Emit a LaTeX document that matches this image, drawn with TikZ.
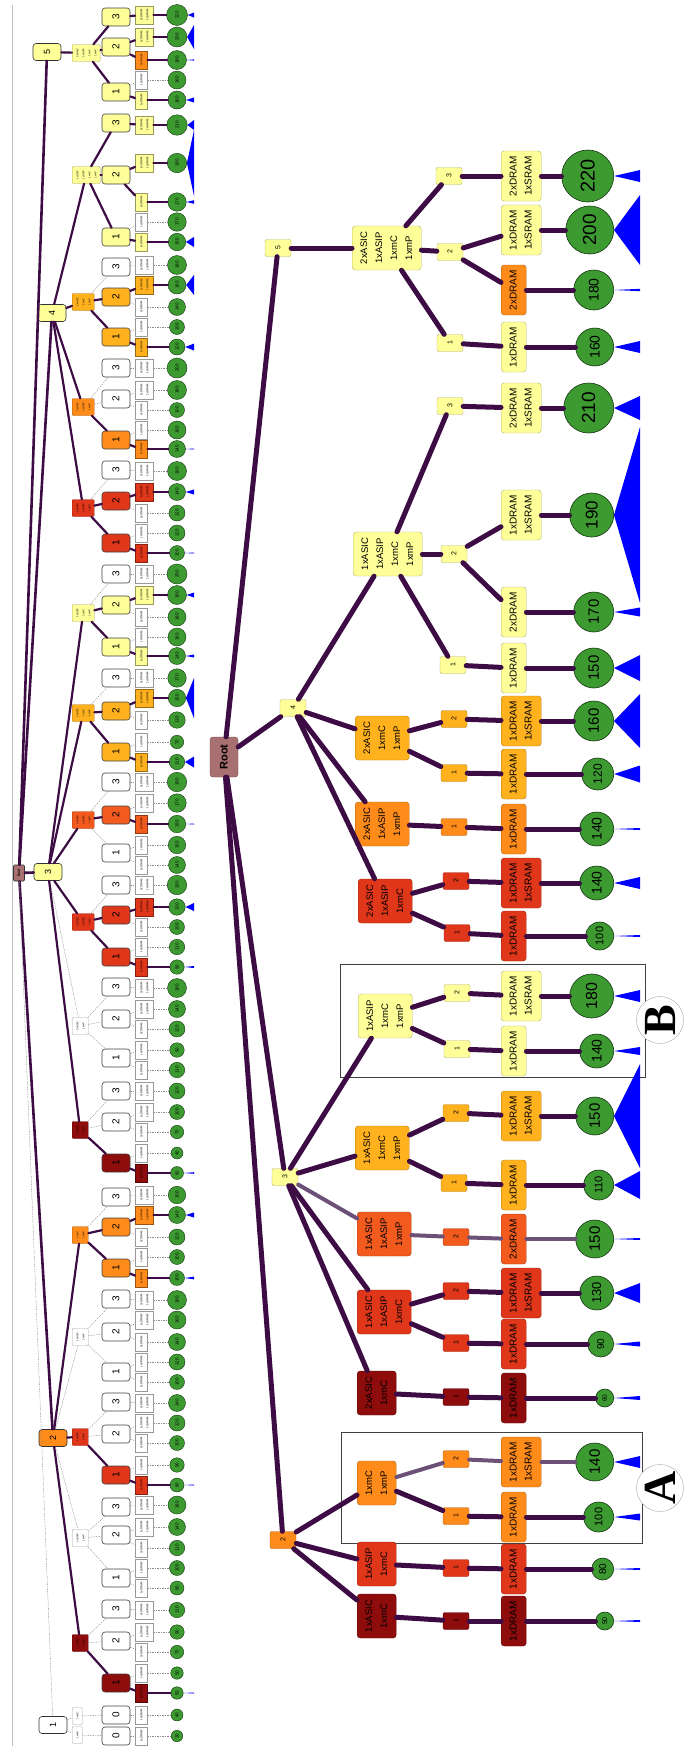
\documentclass[tikz,border=0pt]{standalone}
\usepackage{fontspec}
\setmainfont{Liberation Sans}
\newfontfamily\letterfont{Liberation Serif}
\usepackage{graphicx}
\usetikzlibrary{calc}

\definecolor{cyel}{HTML}{FFFF99}
\definecolor{camb}{HTML}{FFB21E}
\definecolor{cora}{HTML}{FF8C1A}
\definecolor{corr}{HTML}{F25A1E}
\definecolor{cred}{HTML}{E0361A}
\definecolor{cdred}{HTML}{8E0C0C}
\definecolor{croot}{HTML}{A87070}
\definecolor{cleaf}{HTML}{3C9A30}
\definecolor{cedge}{HTML}{3D0C44}
\definecolor{cedgel}{HTML}{6C5078}
\definecolor{ctri}{HTML}{0000FF}

\newcommand{\rot}[1]{\rotatebox{90}{\begin{tabular}{@{}c@{}}#1\end{tabular}}}
\newcommand{\memA}{2xDRAM\\1xSRAM}
\newcommand{\memB}{1xDRAM\\1xSRAM}
\newcommand{\memC}{2xDRAM}
\newcommand{\memD}{1xSRAM}
\newcommand{\memE}{1xDRAM}
% blue spread triangle to the right of a leaf
\newcommand{\spread}[3]{\fill[ctri] (#1.east) -- ($(#1.east -| #2)+(0,#3)$) -- ($(#1.east -| #2)+(0,-#3)$) -- cycle;}

\begin{document}
\begin{tikzpicture}[x=1pt, y=-1pt,
  rnum/.style={fill=#1, draw=#1!70!black, rounded corners=2pt, minimum width=26pt, minimum height=17pt, inner sep=0pt, font=\fontsize{7}{8}\selectfont},
  rset/.style={fill=#1, draw=#1!70!black, rounded corners=3pt, anchor=west, minimum height=44pt, inner xsep=4.5pt, inner ysep=0pt, font=\fontsize{9.5}{15}\selectfont},
  rmem/.style={fill=#1, draw=#1!70!black, rounded corners=3pt, anchor=west, minimum height=50pt, inner xsep=5pt, inner ysep=0pt, font=\fontsize{10}{15}\selectfont},
  rleaf/.style={circle, fill=cleaf, draw=cleaf!35!black, line width=0.6pt, inner sep=0pt, anchor=east},
  rroot/.style={fill=croot, draw=croot!70!black, rounded corners=3pt, minimum width=28pt, minimum height=40pt, inner sep=0pt, font=\bfseries\fontsize{11}{12}\selectfont},
  redge/.style={draw=cedge, line width=5pt, line cap=round},
  redgel/.style={draw=cedgel, line width=4pt, line cap=round},
  boxab/.style={draw=black!75, line width=1pt},
  labc/.style={circle, draw=black!35, fill=white, minimum size=47pt, inner sep=0pt, font=\letterfont\bfseries\fontsize{46}{46}\selectfont},
  lone/.style={fill=#1, draw=black!80, rounded corners=3pt, minimum width=28pt, minimum height=17pt, inner sep=0pt, line width=0.6pt, font=\fontsize{9}{10}\selectfont},
  lset/.style={fill=#1, draw=#1!65!black, rounded corners=1pt, anchor=west, minimum height=17pt, inner xsep=2pt, inner ysep=0pt, font=\fontsize{2.6}{6}\selectfont},
  lnum/.style={fill=#1, draw=black!75, rounded corners=3pt, minimum width=28pt, minimum height=18pt, inner sep=0pt, line width=0.6pt, font=\fontsize{10}{11}\selectfont},
  lmem/.style={fill=#1, draw=#1!60!black, anchor=west, minimum height=18pt, inner xsep=3pt, inner ysep=0pt, font=\fontsize{2.8}{6}\selectfont},
  lleaf/.style={circle, fill=cleaf, draw=cleaf!35!black, line width=0.4pt, inner sep=0pt, font=\fontsize{4.5}{5}\selectfont},
  ledge/.style={draw=cedge, line width=2.2pt, line cap=round},
  ldash/.style={draw=black!45, line width=0.4pt, dash pattern=on 1.5pt off 1pt}
]
\useasboundingbox (0,0) rectangle (690,1746);
\coordinate (rbase) at (640,0);
\coordinate (lbase) at (194,0);

% overview tree on the left
\draw[black!25, line width=0.8pt] (12,5) -- (12,1746);
\node[lone=croot, minimum width=11pt, minimum height=16pt, rounded corners=1pt, font=\bfseries\fontsize{3.5}{4}\selectfont] (lroot) at (19,873) {\rotatebox{90}{Root}};
\node[lone=cyel] (L5) at (47,52) {\rotatebox{90}{5}};
\node[lone=cyel] (L4) at (52,313) {\rotatebox{90}{4}};
\node[lone=cyel] (L3) at (48,872) {\rotatebox{90}{3}};
\node[lone=cora] (L2) at (53,1438) {\rotatebox{90}{2}};
\node[lone=white] (L1) at (53,1725) {\rotatebox{90}{1}};

\node[lset=cyel] (ga1) at (72,53) {\rot{2xASIC\\1xASIP\\1xmC\\1xmP}};
\node[lset=cyel] (gb1) at (72,175) {\rot{1xASIC\\1xASIP\\1xmC\\1xmP}};
\node[lset=camb] (gb2) at (72,302) {\rot{2xASIC\\1xmC\\1xmP}};
\node[lset=cora] (gb3) at (72,407) {\rot{2xASIC\\1xASIP\\1xmP}};
\node[lset=cred] (gb4) at (72,508) {\rot{2xASIC\\1xASIP\\1xmC}};
\node[lset=cyel] (gc1) at (72,613) {\rot{1xASIP\\1xmC\\1xmP}};
\node[lset=camb] (gc2) at (72,713) {\rot{1xASIC\\1xmC\\1xmP}};
\node[lset=corr] (gc3) at (72,820) {\rot{1xASIC\\1xASIP\\1xmP}};
\node[lset=cred] (gc4) at (72,922) {\rot{1xASIC\\1xASIP\\1xmC}};
\node[lset=white] (gc5) at (72,1026) {\rot{2xASIC\\1xmP}};
\node[lset=cdred] (gc6) at (72,1130) {\rot{2xASIC\\1xmC}};
\node[lset=cora] (gd1) at (72,1235) {\rot{1xmC\\1xmP}};
\node[lset=white] (gd2) at (72,1337) {\rot{1xASIC\\1xmP}};
\node[lset=cred] (gd3) at (72,1437) {\rot{1xASIP\\1xmC}};
\node[lset=white] (gd4) at (72,1538) {\rot{1xASIP\\1xmP}};
\node[lset=cdred] (gd5) at (72,1643) {\rot{1xASIC\\1xmC}};
\node[lset=white] (ge1) at (72,1716) {\rot{1xmC}};
\node[lset=white] (ge2) at (72,1735) {\rot{1xmP}};

\foreach \a in {L5,L4,L3,L2} \draw[ledge, line width=2.6pt] (lroot) -- (\a);
\draw[ldash] (lroot) -- (L1);
\foreach \a/\b/\s in {L5/ga1/ledge, L4/gb1/ledge, L4/gb2/ledge, L4/gb3/ledge, L4/gb4/ledge,
  L3/gc1/ledge, L3/gc2/ledge, L3/gc3/ledge, L3/gc4/ledge, L3/gc5/ldash, L3/gc6/ledge,
  L2/gd1/ledge, L2/gd2/ldash, L2/gd3/ledge, L2/gd4/ldash, L2/gd5/ledge, L1/ge1/ldash, L1/ge2/ldash}
  \draw[\s] (\a) -- (\b);

\foreach \n/\y/\c/\l/\p/\s in {
  a13/17/cyel/3/ga1/ledge, a12/47/cyel/2/ga1/ledge, a11/92/cyel/1/ga1/ledge,
  b13/123/cyel/3/gb1/ledge, b12/175/cyel/2/gb1/ledge, b11/237/cyel/1/gb1/ledge,
  b23/267/white/3/gb2/ldash, b22/297/camb/2/gb2/ledge, b21/337/camb/1/gb2/ledge,
  b33/368/white/3/gb3/ldash, b32/399/white/2/gb3/ldash, b31/440/cora/1/gb3/ledge,
  b43/470/white/3/gb4/ldash, b42/501/cred/2/gb4/ledge, b41/543/cred/1/gb4/ledge,
  c13/574/white/3/gc1/ldash, c12/605/cyel/2/gc1/ledge, c11/647/cyel/1/gc1/ledge,
  c23/678/white/3/gc2/ldash, c22/711/camb/2/gc2/ledge, c21/752/camb/1/gc2/ledge,
  c33/782/white/3/gc3/ldash, c32/815/corr/2/gc3/ledge, c31/853/white/1/gc3/ldash,
  c43/885/white/3/gc4/ldash, c42/915/cred/2/gc4/ledge, c41/957/cred/1/gc4/ledge,
  c53/987/white/3/gc5/ldash, c52/1019/white/2/gc5/ldash, c51/1058/white/1/gc5/ldash,
  c63/1091/white/3/gc6/ldash, c62/1122/white/2/gc6/ldash, c61/1163/cdred/1/gc6/ledge,
  d13/1197/white/3/gd1/ldash, d12/1227/cora/2/gd1/ledge, d11/1268/cora/1/gd1/ledge,
  d23/1299/white/3/gd2/ldash, d22/1332/white/2/gd2/ldash, d21/1372/white/1/gd2/ldash,
  d33/1402/white/3/gd3/ldash, d32/1434/white/2/gd3/ldash, d31/1475/cred/1/gd3/ledge,
  d43/1507/white/3/gd4/ldash, d42/1535/white/2/gd4/ldash, d41/1578/white/1/gd4/ldash,
  d53/1609/white/3/gd5/ldash, d52/1641/white/2/gd5/ldash, d51/1683/cdred/1/gd5/ledge,
  e10/1715/white/0/ge1/ldash, e20/1736/white/0/ge2/ldash}{
  \node[lnum=\c] (\n) at (116,\y) {\rotatebox{90}{\l}};
  \draw[\s] (\p) -- (\n);
}

\foreach \y/\p/\c/\t/\v/\h/\s in {
  15/a13/cyel/A/220/2.5/ledge, 37/a12/cyel/B/200/12/ledge, 60/a12/cora/C/180/0.6/ledge,
  80/a11/white/D/160/0/ldash, 100/a11/cyel/E/160/2.5/ledge,
  125/b13/cyel/A/210/5/ledge, 163/b12/cyel/B/190/33/ledge, 202/b12/cyel/C/170/1.8/ledge,
  222/b11/white/D/170/0/ldash, 242/b11/cyel/E/150/5/ledge,
  265/b23/white/A/180/0/ldash, 285/b22/camb/B/160/10/ledge, 307/b22/white/C/140/0/ldash,
  327/b21/white/D/100/0/ldash, 347/b21/camb/E/120/3.5/ledge,
  368/b33/white/A/200/0/ldash, 390/b32/white/B/180/0/ldash, 410/b32/white/C/100/0/ldash,
  430/b31/white/D/160/0/ldash, 449/b31/cora/E/140/0.5/ledge,
  471/b43/white/A/180/0/ldash, 492/b42/cred/B/140/2.5/ledge, 513/b42/white/C/120/0/ldash,
  533/b41/white/D/120/0/ldash, 553/b41/cred/E/100/0.5/ledge,
  574/c13/white/A/200/0/ldash, 595/c12/cyel/B/180/2.5/ledge, 617/c12/white/C/160/0/ldash,
  637/c11/white/D/160/0/ldash, 656/c11/cyel/E/140/1.5/ledge,
  678/c23/white/A/170/0/ldash, 698/c22/camb/B/150/20/ledge, 720/c22/white/C/130/0/ldash,
  742/c21/white/D/70/0/ldash, 762/c21/camb/E/110/5.5/ledge,
  782/c33/white/A/190/0/ldash, 803/c32/white/B/170/0/ldash, 824/c32/corr/C/150/0.5/ledge,
  845/c31/white/D/150/0/ldash, 865/c31/white/E/140/0/ldash,
  885/c43/white/A/190/0/ldash, 907/c42/cred/B/130/4/ledge, 927/c42/white/C/100/0/ldash,
  947/c41/white/D/110/0/ldash, 967/c41/cred/E/90/1/ledge,
  988/c53/white/A/180/0/ldash, 1009/c52/white/B/140/0/ldash, 1029/c52/white/C/120/0/ldash,
  1050/c51/white/D/90/0/ldash, 1070/c51/white/E/110/0/ldash,
  1091/c63/white/A/120/0/ldash, 1112/c62/white/B/100/0/ldash, 1132/c62/white/C/70/0/ldash,
  1153/c61/white/D/40/0/ldash, 1173/c61/cdred/E/60/0.8/ledge,
  1195/d13/white/A/150/0/ldash, 1215/d12/cora/B/140/2.5/ledge, 1237/d12/white/C/120/0/ldash,
  1257/d11/white/D/100/0/ldash, 1278/d11/cora/E/100/1.4/ledge,
  1300/d23/white/A/180/0/ldash, 1320/d22/white/B/160/0/ldash, 1342/d22/white/C/140/0/ldash,
  1362/d21/white/D/120/0/ldash, 1382/d21/white/E/100/0/ldash,
  1403/d33/white/A/140/0/ldash, 1423/d32/white/B/120/0/ldash, 1443/d32/white/C/100/0/ldash,
  1465/d31/white/D/90/0/ldash, 1485/d31/cred/E/80/0.5/ledge,
  1505/d43/white/A/160/0/ldash, 1527/d42/white/B/140/0/ldash, 1548/d42/white/C/110/0/ldash,
  1568/d41/white/D/100/0/ldash, 1588/d41/white/E/80/0/ldash,
  1610/d53/white/A/110/0/ldash, 1632/d52/white/B/90/0/ldash, 1652/d52/white/C/70/0/ldash,
  1673/d51/white/D/50/0/ldash, 1693/d51/cdred/E/50/0.5/ledge,
  1715/e10/white/D/40/0/ldash, 1736/e20/white/E/30/0/ldash}{
  \node[lmem=\c] (lm\y) at (135,\y) {\rot{\csname mem\t\endcsname}};
  \node[lleaf, minimum size={10+\v/20}] (lc\y) at (177,\y) {\rotatebox{90}{\v}};
  \draw[\s] (\p) -- (lm\y);
  \draw[\s] (lm\y) -- (lc\y);
  \ifdim\h pt>0pt \spread{lc\y}{lbase}{\h}\fi
}

% detail tree
\draw[boxab] (340,964) rectangle (645,1077);
\draw[boxab] (341,1432) rectangle (642,1543);

\node[rroot] (root) at (224,757) {\rotatebox{90}{Root}};
\node[rnum=cyel] (k5) at (278,248) {\rotatebox{90}{5}};
\node[rnum=cyel] (k4) at (293,708) {\rotatebox{90}{4}};
\node[rnum=cyel] (k3) at (285,1177) {\rotatebox{90}{3}};
\node[rnum=cora] (k2) at (283,1540) {\rotatebox{90}{2}};

\node[rset=cyel] (s5) at (352,248) {\rot{2xASIC\\1xASIP\\1xmC\\1xmP}};
\node[rset=cyel] (s4a) at (353,554) {\rot{1xASIC\\1xASIP\\1xmC\\1xmP}};
\node[rset=camb] (s4b) at (355,738) {\rot{2xASIC\\1xmC\\1xmP}};
\node[rset=cora] (s4c) at (355,824) {\rot{2xASIC\\1xASIP\\1xmP}};
\node[rset=cred] (s4d) at (358,901) {\rot{2xASIC\\1xASIP\\1xmC}};
\node[rset=cyel] (s3a) at (358,1016) {\rot{1xASIP\\1xmC\\1xmP}};
\node[rset=camb] (s3b) at (355,1148) {\rot{1xASIC\\1xmC\\1xmP}};
\node[rset=corr] (s3c) at (357,1234) {\rot{1xASIC\\1xASIP\\1xmP}};
\node[rset=cred] (s3d) at (357,1312) {\rot{1xASIC\\1xASIP\\1xmC}};
\node[rset=cdred] (s3e) at (357,1393) {\rot{2xASIC\\1xmC}};
\node[rset=cora] (s2a) at (357,1483) {\rot{1xmC\\1xmP}};
\node[rset=cred] (s2b) at (357,1564) {\rot{1xASIP\\1xmC}};
\node[rset=cdred] (s2c) at (357,1616) {\rot{1xASIC\\1xmC}};

\foreach \n/\x/\y/\c/\l in {n53/449/176/cyel/3, n52/450/252/cyel/2, n51/450/343/cyel/1,
  n4a3/450/406/cyel/3, n4a2/454/554/cyel/2, n4a1/453/665/cyel/1,
  n4b2/454/719/camb/2, n4b1/454/773/camb/1, n4c1/454/827/cora/1,
  n4d2/456/881/cred/2, n4d1/457/933/cred/1,
  n3a2/457/993/cyel/2, n3a1/457/1049/cyel/1,
  n3b2/456/1113/camb/2, n3b1/454/1183/camb/1, n3c2/456/1237/corr/2,
  n3d2/456/1291/cred/2, n3d1/456/1343/cred/1, n3e1/456/1397/cdred/1,
  n2a2/456/1459/cora/2, n2a1/456/1516/cora/1, n2b1/456/1568/cred/1, n2c1/456/1621/cdred/1}
  \node[rnum=\c] (\n) at (\x,\y) {\rotatebox{90}{\l}};

\foreach \a/\b/\s in {root/k5/redge, root/k4/redge, root/k3/redge, root/k2/redge,
  k5/s5/redge, k4/s4a/redge, k4/s4b/redge, k4/s4c/redge, k4/s4d/redge,
  k3/s3a/redge, k3/s3b/redge, k3/s3c/redgel, k3/s3d/redge, k3/s3e/redge,
  k2/s2a/redge, k2/s2b/redge, k2/s2c/redge,
  s5/n53/redge, s5/n52/redge, s5/n51/redge, s4a/n4a3/redge, s4a/n4a2/redge, s4a/n4a1/redge,
  s4b/n4b2/redge, s4b/n4b1/redge, s4c/n4c1/redge, s4d/n4d2/redge, s4d/n4d1/redge,
  s3a/n3a2/redge, s3a/n3a1/redge, s3b/n3b2/redge, s3b/n3b1/redge, s3c/n3c2/redgel,
  s3d/n3d2/redge, s3d/n3d1/redge, s3e/n3e1/redge,
  s2a/n2a2/redgel, s2a/n2a1/redge, s2b/n2b1/redge, s2c/n2c1/redge}
  \draw[\s] (\a) -- (\b);

\foreach \y/\p/\c/\t/\v/\r/\f/\h/\s in {
  176/n53/cyel/A/220/26/20/6/redge, 230/n52/cyel/B/200/24/19/35/redge,
  290/n52/cora/C/180/20/14/1.2/redge, 347/n51/cyel/E/160/19/14/6/redge,
  408/n4a3/cyel/A/210/25/19/12/redge, 515/n4a2/cyel/B/190/22/17/88/redge,
  612/n4a2/cyel/C/170/20/15/4.5/redge, 668/n4a1/cyel/E/150/20/15/13/redge,
  721/n4b2/camb/B/160/20/15/27/redge, 774/n4b1/camb/E/120/16/12/8.5/redge,
  829/n4c1/cora/E/140/17/14/1/redge, 883/n4d2/cred/B/140/17/14/6/redge,
  936/n4d1/cred/E/100/14/11/1/redge, 996/n3a2/cyel/B/180/22/16/6/redge,
  1051/n3a1/cyel/E/140/17/14/4/redge, 1116/n3b2/camb/B/150/19/15/52/redge,
  1185/n3b1/camb/E/110/15/11/14/redge, 1239/n3c2/corr/C/150/19/15/1/redgel,
  1293/n3d2/cred/B/130/17/13/10/redge, 1344/n3d1/cred/E/90/13/10/2.5/redge,
  1398/n3e1/cdred/E/60/9/6.5/2/redge, 1462/n2a2/cora/B/140/19/15/6/redgel,
  1517/n2a1/cora/E/100/15/11/3.5/redge, 1569/n2b1/cred/E/80/11/10/1/redge,
  1621/n2c1/cdred/E/50/9/7/1/redge}{
  \node[rmem=\c] (rm\y) at (501,\y) {\rot{\csname mem\t\endcsname}};
  \node[rleaf, minimum size=2*\r, font=\fontsize{\f}{\f}\selectfont] (rl\y) at (614,\y) {\rotatebox{90}{\v}};
  \draw[\s] (\p) -- (rm\y);
  \draw[\s] (rm\y) -- (rl\y);
  \spread{rl\y}{rbase}{\h}
}

\node[labc] (labB) at (660,1020) {\rotatebox{90}{B}};
\node[labc] (labA) at (660,1488) {\rotatebox{90}{A}};
\end{tikzpicture}
\end{document}
